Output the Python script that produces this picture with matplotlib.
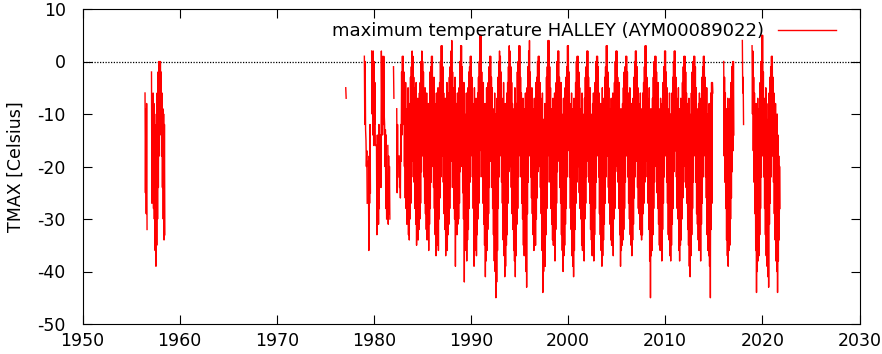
import numpy as np
import matplotlib.pyplot as plt

plt.rcParams['font.family'] = 'DejaVu Sans'
plt.rcParams['axes.unicode_minus'] = False

N = None  # month without data

# monthly (highest, lowest) daily TMAX, Jan..Dec
tmax_1956 = [N, N, N, N, N, (-6, -25), (-9, -29), (-8, -32), N, N, N, N]
tmax_1957 = [N, (-2, -27), (-8, -26), (-6, -28), (-8, -30), (-12, -36), (-16, -39), (-10, -35), (-6, -30), (-2, -24), (0, -18), (0, -14)]
tmax_1958 = [(0, -12), (-2, -18), (-6, -24), (-9, -30), (-10, -34), (-12, -33), N, N, N, N, N, N]
tmax_1977 = [N, (-5, -7), N, N, N, N, N, N, N, N, N, N]
tmax_1979 = [(1, -12), (0, -13), (-15, -20), (-17, -27), N, (-19, -36), (-18, -27), (-12, -25), N, (2, -10), (1, -14), (2, -16)]
tmax_1980 = [(0, -12), (-4, -16), N, (-16, -33), (-14, -30), (-20, -31), (-12, -28), N, (-14, -24), (2, -8), (1, -14), (0, -12)]
tmax_1981 = [(1, -10), (-12, -20), (-13, -28), (-14, -30), N, (-16, -31), (-18, -29), (-20, -30), N, N, N, N]
tmax_1982 = [(-1, -7), N, N, N, (-9, -25), (-12, -22), N, (-18, -24), (-20, -26), (-12, -19), (-2, -14), (1, -10)]
tmax_1983 = [(1, -12), (-2, -20), (-6, -26), (-4, -28), (-9, -31), (-12, -30), (-5, -33), (-10, -34), (-8, -30), (-3, -27), (-1, -22), (2, -17)]
tmax_1984 = [(1, -19), (-3, -23), (-5, -28), (-9, -31), (-4, -35), (-11, -33), (-7, -34), (-12, -32), (-6, -30), (-4, -27), (0, -21), (2, -18)]
tmax_1985 = [(0, -17), (-2, -22), (-7, -27), (-5, -29), (-10, -32), (-6, -34), (-13, -33), (-8, -36), (-9, -31), (-2, -28), (-1, -23), (1, -19)]
tmax_1986 = [(1, -20), (-4, -24), (-3, -28), (-8, -33), (-12, -37), (-6, -35), (-10, -34), (-5, -36), (-7, -30), (-4, -26), (0, -22), (3, -17)]
tmax_1987 = [(3, -18), (-1, -23), (-6, -29), (-10, -32), (-7, -37), (-11, -34), (-4, -36), (-9, -33), (-6, -31), (-3, -28), (-1, -24), (2, -19)]
tmax_1988 = [(4, -18), (-2, -24), (-5, -28), (-9, -30), (-3, -39), (-12, -32), (-8, -33), (-6, -31), (-10, -30), (-5, -27), (0, -21), (3, -17)]
tmax_1989 = [(3, -20), (-1, -25), (-7, -30), (-4, -42), (-10, -35), (-13, -36), (-6, -38), (-9, -34), (-5, -32), (-2, -28), (-1, -23), (1, -18)]
tmax_1990 = [(1, -17), (-3, -22), (-8, -28), (-11, -39), (-5, -36), (-9, -35), (-7, -37), (-12, -33), (-6, -30), (-3, -27), (0, -22), (5, -16)]
tmax_1991 = [(5, -17), (-2, -22), (-6, -27), (-4, -31), (-10, -35), (-8, -41), (-12, -38), (-5, -36), (-9, -32), (-4, -29), (-1, -24), (1, -19)]
tmax_1992 = [(1, -19), (-3, -24), (-5, -28), (-9, -33), (-11, -38), (-6, -40), (-10, -45), (-13, -42), (-7, -36), (-3, -28), (0, -22), (2, -18)]
tmax_1993 = [(1, -17), (-2, -23), (-7, -27), (-10, -34), (-4, -37), (-12, -41), (-8, -39), (-11, -35), (-6, -33), (-4, -27), (-1, -21), (3, -18)]
tmax_1994 = [(2, -20), (-1, -24), (-4, -29), (-8, -32), (-12, -36), (-9, -38), (-5, -41), (-10, -37), (-8, -31), (-2, -28), (0, -22), (3, -17)]
tmax_1995 = [(3, -18), (-3, -22), (-6, -27), (-11, -30), (-7, -35), (-13, -37), (-9, -36), (-6, -40), (-10, -43), (-5, -29), (-1, -23), (2, -18)]
tmax_1996 = [(4, -16), (-2, -22), (-8, -26), (-5, -29), (-9, -33), (-12, -36), (-7, -34), (-10, -35), (-4, -30), (-3, -26), (0, -21), (1, -18)]
tmax_1997 = [(1, -20), (-4, -24), (-7, -29), (-10, -36), (-6, -44), (-11, -40), (-13, -38), (-8, -39), (-9, -33), (-3, -28), (-1, -23), (4, -17)]
tmax_1998 = [(4, -18), (-1, -23), (-5, -28), (-9, -31), (-12, -34), (-7, -35), (-10, -33), (-6, -38), (-8, -32), (-4, -27), (0, -21), (2, -18)]
tmax_1999 = [(2, -19), (-3, -24), (-6, -27), (-4, -33), (-10, -36), (-12, -40), (-7, -37), (-11, -35), (-5, -31), (-3, -28), (-1, -22), (3, -17)]
tmax_2000 = [(3, -16), (-2, -22), (-8, -28), (-10, -32), (-6, -37), (-9, -39), (-13, -41), (-7, -36), (-9, -32), (-4, -27), (0, -23), (1, -19)]
tmax_2001 = [(1, -20), (-2, -25), (-5, -28), (-9, -30), (-11, -35), (-6, -36), (-10, -34), (-12, -38), (-7, -30), (-3, -27), (-1, -22), (2, -18)]
tmax_2002 = [(2, -19), (-3, -23), (-7, -27), (-5, -32), (-10, -34), (-13, -37), (-8, -35), (-6, -38), (-9, -33), (-4, -28), (0, -23), (1, -18)]
tmax_2003 = [(1, -17), (-1, -22), (-6, -29), (-10, -33), (-8, -36), (-12, -39), (-5, -37), (-9, -34), (-7, -31), (-3, -27), (-1, -22), (3, -16)]
tmax_2004 = [(3, -18), (-2, -24), (-5, -27), (-9, -31), (-11, -34), (-7, -35), (-10, -33), (-6, -37), (-8, -30), (-4, -28), (0, -21), (2, -17)]
tmax_2005 = [(2, -20), (-3, -23), (-7, -28), (-4, -33), (-10, -39), (-9, -36), (-12, -35), (-8, -34), (-5, -32), (-2, -28), (-1, -23), (1, -18)]
tmax_2006 = [(1, -17), (-2, -22), (-6, -27), (-9, -30), (-5, -33), (-11, -35), (-8, -37), (-12, -34), (-7, -31), (-3, -26), (0, -22), (2, -16)]
tmax_2007 = [(2, -19), (-1, -24), (-5, -28), (-8, -29), (-10, -32), (-6, -33), (-12, -34), (-9, -33), (-6, -29), (-4, -27), (-1, -23), (3, -19)]
tmax_2008 = [(3, -17), (-3, -22), (-7, -27), (-10, -32), (-5, -38), (-12, -45), (-9, -37), (-11, -36), (-7, -33), (-3, -28), (0, -23), (1, -18)]
tmax_2009 = [(1, -20), (-2, -25), (-6, -28), (-4, -31), (-9, -35), (-13, -36), (-7, -34), (-10, -38), (-8, -32), (-4, -27), (-1, -22), (2, -17)]
tmax_2010 = [(2, -18), (-2, -23), (-5, -27), (-9, -33), (-11, -34), (-6, -37), (-10, -38), (-12, -35), (-6, -31), (-3, -28), (0, -21), (2, -16)]
tmax_2011 = [(2, -17), (-3, -22), (-7, -28), (-10, -30), (-5, -36), (-9, -38), (-11, -35), (-7, -34), (-8, -30), (-4, -26), (-1, -23), (1, -19)]
tmax_2012 = [(1, -20), (-2, -24), (-6, -27), (-8, -32), (-12, -35), (-7, -39), (-10, -41), (-13, -37), (-6, -33), (-2, -28), (0, -23), (1, -17)]
tmax_2013 = [(1, -18), (-1, -23), (-5, -29), (-9, -31), (-11, -34), (-8, -36), (-6, -33), (-10, -38), (-7, -31), (-3, -27), (-1, -22), (1, -18)]
tmax_2014 = [(1, -17), (-3, -22), (-7, -26), (-5, -33), (-10, -36), (-12, -37), (-8, -39), (-11, -45), (-6, -32), (-4, -27), (-4, -6), N]
tmax_2016 = [(0, -18), (-3, -23), (-6, -28), (-9, -34), (-11, -37), (-7, -39), (-12, -36), (-9, -35), (-7, -30), (-4, -26), (-1, -21), (0, -17)]
tmax_2017 = [(0, -14), N, N, N, N, N, N, N, N, N, N, (4, -6)]
tmax_2018 = [(-3, -12), N, N, N, N, N, N, N, N, N, N, (3, -10)]
tmax_2019 = [(2, -17), (-3, -23), (-6, -29), (-10, -36), (-8, -44), (-12, -40), (-7, -38), (-11, -37), (-9, -33), (-4, -28), (0, -22), (5, -18)]
tmax_2020 = [(5, -16), (-2, -22), (-7, -28), (-9, -33), (-5, -37), (-11, -39), (-13, -41), (-8, -43), (-6, -31), (-3, -27), (-1, -22), (1, -17)]
tmax_2021 = [(1, -18), (-3, -23), (-6, -29), (-11, -34), (-8, -38), (-12, -40), (-10, -44), (-14, -38), (-18, -34), (-20, -28), N, N]

station = 'HALLEY (AYM00089022)'

yearly = {
    1956: tmax_1956, 1957: tmax_1957, 1958: tmax_1958, 1977: tmax_1977,
    1979: tmax_1979, 1980: tmax_1980, 1981: tmax_1981, 1982: tmax_1982,
    1983: tmax_1983, 1984: tmax_1984, 1985: tmax_1985, 1986: tmax_1986,
    1987: tmax_1987, 1988: tmax_1988, 1989: tmax_1989, 1990: tmax_1990,
    1991: tmax_1991, 1992: tmax_1992, 1993: tmax_1993, 1994: tmax_1994,
    1995: tmax_1995, 1996: tmax_1996, 1997: tmax_1997, 1998: tmax_1998,
    1999: tmax_1999, 2000: tmax_2000, 2001: tmax_2001, 2002: tmax_2002,
    2003: tmax_2003, 2004: tmax_2004, 2005: tmax_2005, 2006: tmax_2006,
    2007: tmax_2007, 2008: tmax_2008, 2009: tmax_2009, 2010: tmax_2010,
    2011: tmax_2011, 2012: tmax_2012, 2013: tmax_2013, 2014: tmax_2014,
    2016: tmax_2016, 2017: tmax_2017, 2018: tmax_2018, 2019: tmax_2019,
    2020: tmax_2020, 2021: tmax_2021,
}

# build one time series, missing months become NaN so the line breaks there
t, v = [], []
for year in range(1956, 2022):
    months = yearly.get(year, [N] * 12)
    for m, pair in enumerate(months):
        hi, lo = (np.nan, np.nan) if pair is None else pair
        t += [year + (m + 0.25) / 12, year + (m + 0.75) / 12]
        v += [hi, lo]
t = np.array(t)
v = np.array(v, dtype=float)

fig = plt.figure(figsize=(8.82, 3.54), dpi=100)
ax = fig.add_axes([82.5 / 882, 1 - 324 / 354, 777 / 882, 315 / 354])

ax.axhline(0, color='black', lw=0.9, ls=(0, (1, 1.2)), zorder=1)
ax.plot(t, v, color='#ff0000', lw=1.0, zorder=2,
        label='maximum temperature ' + station)

ax.set_xlim(1950, 2030)
ax.set_ylim(-50, 10)
ax.set_xticks(np.arange(1950, 2031, 10))
ax.set_yticks(np.arange(-50, 11, 10))
ax.tick_params(direction='in', length=6.7, width=0.8, top=True, right=True,
               labelsize=12.5)
ax.tick_params(axis='x', pad=6)
ax.tick_params(axis='y', pad=12)
for s in ax.spines.values():
    s.set_linewidth(0.8)
ax.set_ylabel('TMAX [Celsius]', fontsize=12.5, labelpad=9)

ax.legend(loc='upper right', bbox_to_anchor=(0.9695, 0.958), frameon=False,
          markerfirst=False, borderpad=0, borderaxespad=0,
          handlelength=3.2, handletextpad=0.8, fontsize=13)

fig.savefig('out.png', dpi=100)
